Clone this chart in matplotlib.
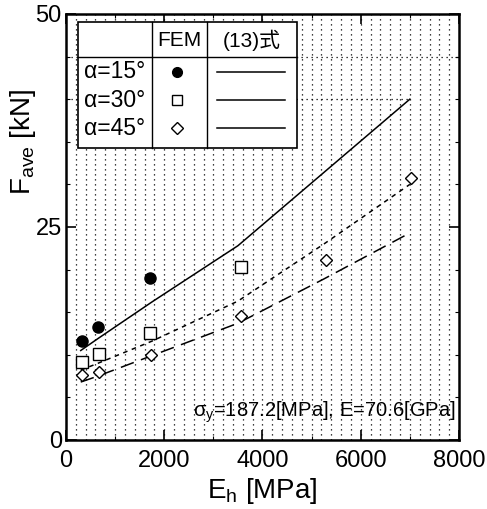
import numpy as np
import matplotlib
matplotlib.use("Agg")
import matplotlib.pyplot as plt
from matplotlib.patches import Rectangle

# -------- data ------------------------------
# FEM results
eh_15 = [320, 650, 1700]
f_15 = [11.6, 13.3, 19.0]
eh_30 = [320, 670, 1720, 3560]
f_30 = [9.2, 10.1, 12.5, 20.3]
eh_45 = [320, 680, 1730, 3560, 5290, 7030]
f_45 = [7.6, 8.0, 10.0, 14.5, 21.1, 30.8]

# eq.(13) curves
eh_eq = [300, 650, 1750, 3500, 5250, 7000]
eq_15 = [10.5, 11.9, 16.2, 22.8, 31.4, 40.0]
eq_30 = [8.2, 9.0, 11.6, 16.3, 23.0, 30.0]
eq_45 = [6.8, 7.5, 9.9, 13.7, 18.9, 24.3]

alpha_labels = ["α=15°", "α=30°", "α=45°"]
header_labels = ["FEM", "(13)式"]
note = "σ$_\\mathrm{y}$=187.2[MPa], E=70.6[GPa]"
# --------------------------------------------

main = "Liberation Sans"
plt.rcParams["font.family"] = [main, "Noto Sans CJK JP", "DejaVu Sans"]
plt.rcParams["mathtext.fontset"] = "custom"
plt.rcParams["mathtext.rm"] = main
plt.rcParams["mathtext.it"] = main

fig = plt.figure(figsize=(4.87, 5.09), dpi=100)
ax = fig.add_axes([0.1355, 0.1356, 0.807, 0.837])

ax.set_xlim(0, 8000)
ax.set_ylim(0, 50)

# dotted grid
grid_kw = dict(color="black", linestyle=(0, (1, 3)), linewidth=0.9, zorder=0)
for gx in np.arange(200, 8000, 200):
    ax.axvline(gx, **grid_kw)
ax.axhline(45, **grid_kw)
ax.axhline(40, xmax=7000 / 8000, **grid_kw)

# eq.(13) curves
ax.plot(eh_eq, eq_15, color="black", linewidth=1.1, linestyle="-", zorder=3)
ax.plot(eh_eq, eq_30, color="black", linewidth=1.1, linestyle=(0, (3, 3)), zorder=3)
ax.plot(eh_eq, eq_45, color="black", linewidth=1.1, linestyle=(0, (9, 5)), zorder=3)

# FEM points
ax.plot(eh_15, f_15, "o", color="black", markersize=8, zorder=4)
ax.plot(eh_30, f_30, "s", markerfacecolor="white", markeredgecolor="black",
        markersize=8, markeredgewidth=1.0, zorder=4)
ax.plot(eh_45, f_45, "D", markerfacecolor="white", markeredgecolor="black",
        markersize=6.5, markeredgewidth=1.0, zorder=4)

# ticks
ax.set_xticks([0, 2000, 4000, 6000, 8000])
ax.set_yticks([0, 25, 50])
ax.set_xticks(np.arange(0, 8001, 1000), minor=True)
ax.set_yticks(np.arange(0, 51, 5), minor=True)
ax.tick_params(which="both", direction="in", top=True, right=True, labelsize=17)
ax.tick_params(axis="x", which="major", pad=7)
ax.tick_params(axis="y", which="major", pad=3)
ax.tick_params(which="major", length=7, width=1.2)
ax.tick_params(which="minor", length=3, width=0.8)
for s in ax.spines.values():
    s.set_linewidth(1.8)

ax.set_xlabel("E$_\\mathrm{h}$ [MPa]", fontsize=20)
ax.xaxis.set_label_coords(0.5, -0.085)
ax.set_ylabel("F$_\\mathrm{ave}$ [kN]", fontsize=20)
ax.yaxis.set_label_coords(-0.072, 0.70)

# legend table
tr = ax.transAxes
x0, x1, x2, x3 = 0.0305, 0.218, 0.358, 0.588
y_top, y_head, y_bot = 0.982, 0.900, 0.685
ax.add_patch(Rectangle((x0, y_bot), x3 - x0, y_top - y_bot, transform=tr,
                       facecolor="white", edgecolor="black", linewidth=1.2, zorder=5))
ax.plot([x0, x3], [y_head, y_head], transform=tr, color="black", linewidth=1.0, zorder=6)
for xv in (x1, x2):
    ax.plot([xv, xv], [y_bot, y_top], transform=tr, color="black", linewidth=1.0, zorder=6)
ax.text((x1 + x2) / 2, 0.937, header_labels[0], transform=tr, ha="center", va="center",
        fontsize=15, zorder=7)
ax.text((x2 + x3) / 2, 0.937, header_labels[1], transform=tr, ha="center", va="center",
        fontsize=15, zorder=7)

rows_y = [0.864, 0.798, 0.732]
styles = [dict(marker="o", mfc="black", ms=7),
          dict(marker="s", mfc="white", ms=7),
          dict(marker="D", mfc="white", ms=6)]
for lab, yy, st in zip(alpha_labels, rows_y, styles):
    ax.text(0.045, yy, lab, transform=tr, ha="left", va="center", fontsize=16.5, zorder=7)
    ax.plot([0.282], [yy], transform=tr, linestyle="none", marker=st["marker"],
            markerfacecolor=st["mfc"], markeredgecolor="black", markersize=st["ms"],
            markeredgewidth=1.0, zorder=7)
    ax.plot([0.385, 0.557], [yy, yy], transform=tr, color="black", linewidth=1.1, zorder=7)

ax.text(0.99, 0.035, note, transform=tr, ha="right", va="bottom", fontsize=14.5, zorder=7)

fig.savefig("out.png", dpi=100)
